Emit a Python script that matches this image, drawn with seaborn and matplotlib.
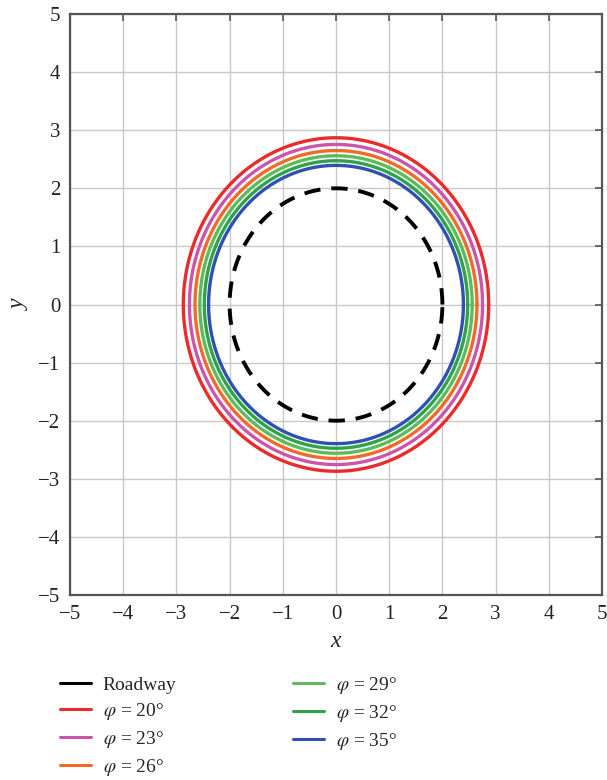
import numpy as np
import pandas as pd
import matplotlib
matplotlib.use("Agg")
import matplotlib.pyplot as plt
import seaborn as sns

# Data: plastic zone radii
phi_labels = ["φ = 20°", "φ = 23°", "φ = 26°", "φ = 29°", "φ = 32°", "φ = 35°"]
radii = [2.87, 2.755, 2.65, 2.56, 2.475, 2.395]
colors = ["#ec2a2a", "#cc55aa", "#f26a2a", "#5dbb5a", "#2ea34a", "#3150b0"]
roadway_radius = 2.0
ticks = [-5, -4, -3, -2, -1, 0, 1, 2, 3, 4, 5]

sns.set_style("whitegrid")
plt.rcParams["font.family"] = ["Liberation Serif", "DejaVu Serif"]
plt.rcParams["mathtext.fontset"] = "stix"

fig = plt.figure(figsize=(6.07, 7.80), dpi=100)
ax = fig.add_axes([70/607, 1-595/780, (602-70)/607, (595-14)/780])

theta = np.linspace(0, 2*np.pi, 721)

df_road = pd.DataFrame({"x": roadway_radius*np.cos(theta), "y": roadway_radius*np.sin(theta)})
sns.lineplot(data=df_road, x="x", y="y", sort=False, estimator=None, ax=ax,
             color="black", linewidth=2.8, linestyle=(0, (4.2, 2.8)), zorder=3)

for r, c in zip(radii, colors):
    d = pd.DataFrame({"x": r*np.cos(theta), "y": r*np.sin(theta)})
    sns.lineplot(data=d, x="x", y="y", sort=False, estimator=None, ax=ax,
                 color=c, linewidth=2.4, zorder=4)

ax.set_xlim(-5, 5)
ax.set_ylim(-5, 5)
ax.set_xticks(ticks)
ax.set_yticks(ticks)
ax.set_xticklabels([str(t).replace("-", "\u2212") for t in ticks])
ax.set_yticklabels([str(t).replace("-", "\u2212") for t in ticks])
ax.grid(True, color="#c8c8c8", linewidth=1.0)
for s in ax.spines.values():
    s.set_color("#555555")
    s.set_linewidth(1.6)
ax.tick_params(direction="in", length=5, width=1.2, color="#555555",
               top=True, right=True, labelsize=15, pad=7, labelcolor="#222222")
ax.set_xlabel("x", fontsize=17, style="italic", labelpad=5)
ax.set_ylabel("y", fontsize=17, style="italic", labelpad=6, rotation=90)

# Legend
from matplotlib.lines import Line2D
handles = [Line2D([], [], color="black", linewidth=2.2)] + \
          [Line2D([], [], color=c, linewidth=2.2) for c in colors]
labels = ["Roadway"] + ["$\\varphi$ = " + l.split("= ")[1] for l in phi_labels]
fig.legend(handles, labels, loc="upper left", bbox_to_anchor=(52/607, 1-667/780),
           ncol=2, frameon=False, fontsize=14, handlelength=1.6, handletextpad=0.6,
           columnspacing=6.0, labelspacing=0.36, borderaxespad=0.0)

fig.savefig("out.png", dpi=100)
